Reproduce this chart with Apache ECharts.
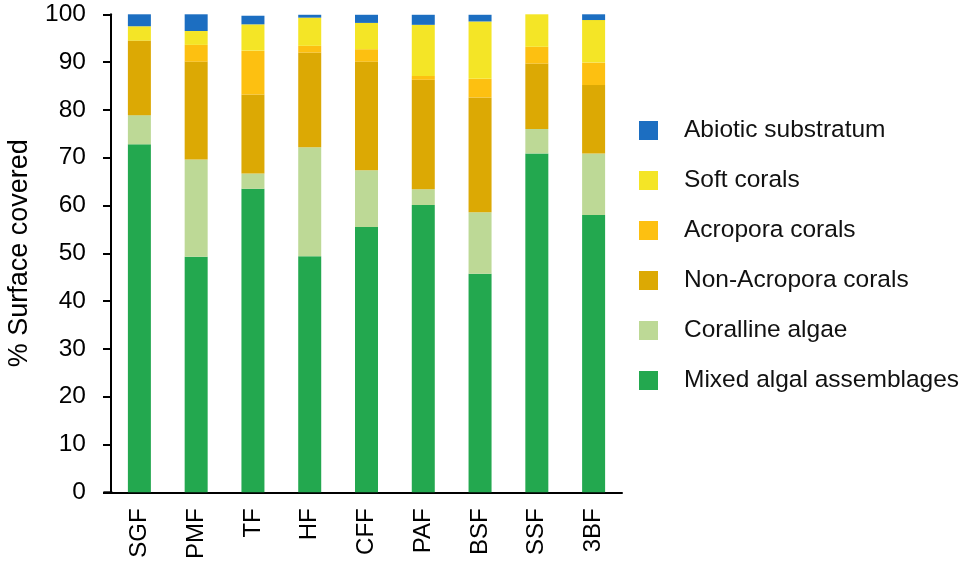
<!DOCTYPE html>
<html>
<head>
<meta charset="utf-8">
<script src="https://cdn.jsdelivr.net/npm/echarts@6/dist/echarts.min.js"></script>
<style>html,body{margin:0;padding:0;background:#fff}#c{width:967px;height:563px}</style>
</head>
<body>
<div id="c"></div>
<script>
const categories = ['SGF','PMF','TF','HF','CFF','PAF','BSF','SSF','3BF'];
const mixedAlgal   = [72.8, 49.3, 63.5, 49.4, 55.5, 60.1, 45.7, 70.9, 58.0];
const coralline    = [ 6.1, 20.3,  3.2, 22.8, 11.9,  3.3, 12.9,  5.1, 12.9];
const nonAcropora  = [15.6, 20.5, 16.5, 19.8, 22.7, 22.9, 24.0, 13.7, 14.3];
const acropora     = [ 0.0,  3.5,  9.2,  1.4,  2.6,  0.8,  3.9,  3.5,  4.7];
const softCorals   = [ 3.0,  2.9,  5.5,  5.9,  5.5, 10.7, 12.0,  6.8,  8.9];
const abiotic      = [ 2.5,  3.5,  1.8,  0.6,  1.7,  2.1,  1.4,  0.0,  1.2];
const yTicks = {min: 0, max: 100, interval: 10};

const seriesDefs = [
  {name: 'Mixed algal assemblages', data: mixedAlgal, color: '#23A84F'},
  {name: 'Coralline algae', data: coralline, color: '#BDD996'},
  {name: 'Non-Acropora corals', data: nonAcropora, color: '#DCA904'},
  {name: 'Acropora corals', data: acropora, color: '#FDC011'},
  {name: 'Soft corals', data: softCorals, color: '#F4E526'},
  {name: 'Abiotic substratum', data: abiotic, color: '#1C6EC1'}
];

const font = 'Liberation Sans, Arial, sans-serif';
const chart = echarts.init(document.getElementById('c'));
chart.setOption({
  animation: false,
  grid: {left: 111, right: 345, top: 14.3, bottom: 70.7, containLabel: false, outerBoundsMode: 'none'},
  legend: {
    orient: 'vertical', left: 634, top: 113,
    itemWidth: 19, itemHeight: 19, itemGap: 25, icon: 'rect',
    data: seriesDefs.map(s => s.name).slice().reverse(),
    textStyle: {fontFamily: font, fontSize: 24.5, color: '#111', padding: [0, 0, 0, 21]}
  },
  xAxis: {
    type: 'category', data: categories,
    axisLine: {lineStyle: {color: '#000', width: 2}},
    axisTick: {alignWithLabel: true, length: 4, lineStyle: {color: '#000', width: 1.5}},
    axisLabel: {rotate: 90, margin: 16, fontFamily: font, fontSize: 24, color: '#000'}
  },
  yAxis: {
    type: 'value', min: yTicks.min, max: yTicks.max, interval: yTicks.interval,
    name: '% Surface covered', nameLocation: 'middle', nameGap: 78, nameRotate: 90,
    nameTextStyle: {fontFamily: font, fontSize: 27, color: '#000'},
    axisLine: {show: true, lineStyle: {color: '#000', width: 2}},
    axisTick: {show: true, length: 8, lineStyle: {color: '#000', width: 2}},
    axisLabel: {margin: 25, fontFamily: font, fontSize: 24.5, color: '#000'},
    splitLine: {show: false}
  },
  series: seriesDefs.map(s => ({
    name: s.name, type: 'bar', stack: 'total', barWidth: 23,
    data: s.data, itemStyle: {color: s.color}
  }))
});
// extend x axis line to the left end of the y ticks (axis decoration)
const p0 = chart.convertToPixel({xAxisIndex: 0, yAxisIndex: 0}, [0, 0]);
chart.setOption({graphic: [{type: 'line', shape: {x1: p0[0] - 8 - 28, y1: p0[1], x2: p0[0] - 27, y2: p0[1]}, style: {stroke: '#000', lineWidth: 2}}]});
</script>
</body>
</html>
